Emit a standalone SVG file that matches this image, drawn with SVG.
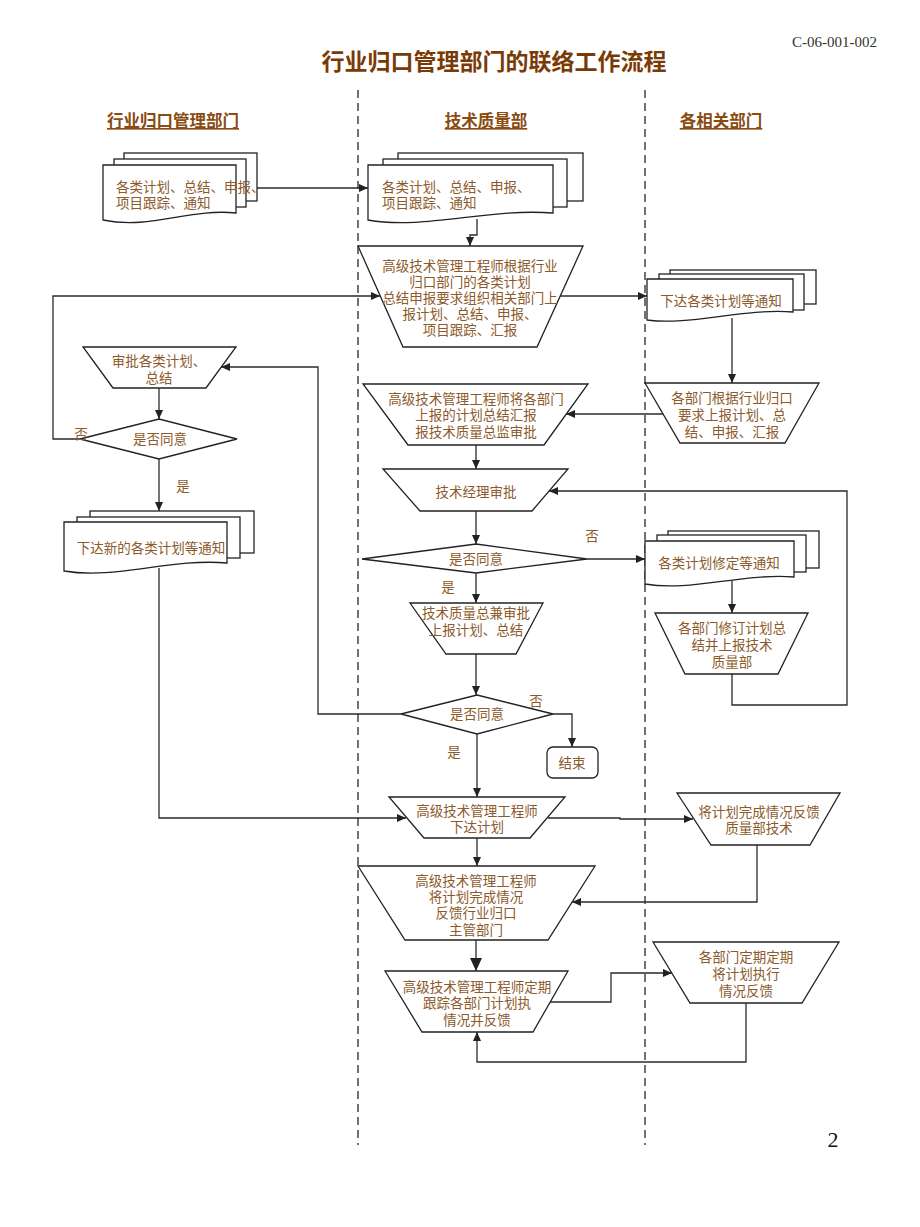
<svg xmlns="http://www.w3.org/2000/svg" width="920" height="1227" viewBox="0 0 920 1227">
<defs>
<marker id="ah" markerUnits="userSpaceOnUse" markerWidth="10" markerHeight="8" refX="9" refY="4" orient="auto">
<path d="M0,0 L9,4 L0,8 Z" fill="#222"/>
</marker>
<marker id="ahb" markerUnits="userSpaceOnUse" markerWidth="14" markerHeight="12" refX="13" refY="6" orient="auto">
<path d="M0,0 L13,6 L0,12 Z" fill="#222"/>
</marker>
<style>
.sh{fill:#fff;stroke:#222;stroke-width:1.3}
.t{font-family:"Liberation Serif","Noto Sans CJK SC",serif;font-size:13.5px;fill:#8c5a2b;text-anchor:middle}
.ts{font-family:"Liberation Serif","Noto Sans CJK SC",serif;font-size:13.5px;fill:#8c5a2b;text-anchor:start}
.lane{font-family:"Liberation Sans","Noto Sans CJK SC",sans-serif;font-size:16.5px;font-weight:bold;fill:#8a4b10;text-anchor:middle;text-decoration:underline}
.c{fill:none;stroke:#2a2a2a;stroke-width:1.3}
.dash{stroke:#444;stroke-width:1.5;stroke-dasharray:8,5}
</style>
</defs>
<rect width="920" height="1227" fill="#fff"/>

<text x="877" y="47" font-family="Liberation Serif,serif" font-size="15" fill="#333" text-anchor="end">C-06-001-002</text>
<text x="494" y="70" font-family="Liberation Sans,Noto Sans CJK SC,sans-serif" font-size="23" font-weight="bold" fill="#7a3a05" text-anchor="middle">行业归口管理部门的联络工作流程</text>
<text class="lane" x="173" y="127">行业归口管理部门</text>
<text class="lane" x="486" y="127">技术质量部</text>
<text class="lane" x="721" y="127">各相关部门</text>

<line class="dash" x1="358" y1="90" x2="358" y2="1145"/>
<line class="dash" x1="645" y1="90" x2="645" y2="1145"/>

<g id="doc1">
<rect class="sh" x="124" y="153" width="133" height="48"/>
<rect class="sh" x="114" y="159" width="132" height="48"/>
<path class="sh" d="M103,165 H236 V213 C190,208 150,230 103,220 Z"/>
<text class="ts" x="116" y="192">各类计划、总结、申报、</text>
<text class="ts" x="116" y="208">项目跟踪、通知</text>
</g>

<g id="doc2">
<rect class="sh" x="398" y="153" width="185" height="48"/>
<rect class="sh" x="383" y="159" width="184" height="48"/>
<path class="sh" d="M368,165 H553 V213 C488,208 424,230 368,220 Z"/>
<text class="ts" x="382" y="192">各类计划、总结、申报、</text>
<text class="ts" x="382" y="208">项目跟踪、通知</text>
</g>

<g id="n3">
<polygon class="sh" points="358,246 583,246 537,347 403,347"/>
<text class="t" x="470" y="271">高级技术管理工程师根据行业</text>
<text class="t" x="470" y="287">归口部门的各类计划</text>
<text class="t" x="470" y="303">总结申报要求组织相关部门上</text>
<text class="t" x="470" y="319">报计划、总结、申报、</text>
<text class="t" x="470" y="335">项目跟踪、汇报</text>
</g>

<g id="docR1">
<rect class="sh" x="670" y="270" width="146" height="34"/>
<rect class="sh" x="659" y="274" width="145" height="36"/>
<path class="sh" d="M647,279 H793 V312 C742,308 690,326 647,320 Z"/>
<text class="t" x="721" y="306">下达各类计划等通知</text>
</g>

<g id="nApprove">
<polygon class="sh" points="83,347 236,347 206,388 113,388"/>
<text class="t" x="159" y="366">审批各类计划、</text>
<text class="t" x="159" y="383">总结</text>
</g>

<g id="d1">
<polygon class="sh" points="80,439 159,419 237,439 159,459"/>
<text class="t" x="160" y="444">是否同意</text>
</g>

<g id="nR2">
<polygon class="sh" points="645,383 819,383 785,443 680,443"/>
<text class="t" x="732" y="403">各部门根据行业归口</text>
<text class="t" x="732" y="420">要求上报计划、总</text>
<text class="t" x="732" y="437">结、申报、汇报</text>
</g>

<g id="nM2">
<polygon class="sh" points="363,384 588,384 544,445 408,445"/>
<text class="t" x="476" y="404">高级技术管理工程师将各部门</text>
<text class="t" x="476" y="420">上报的计划总结汇报</text>
<text class="t" x="476" y="437">报技术质量总监审批</text>
</g>

<g id="nM3">
<polygon class="sh" points="383,469 568,469 532,511 420,511"/>
<text class="t" x="476" y="497">技术经理审批</text>
</g>

<g id="docL2">
<rect class="sh" x="90" y="511" width="164" height="42"/>
<rect class="sh" x="77" y="517" width="163" height="41"/>
<path class="sh" d="M64,522 H227 V563 C170,558 115,580 64,571 Z"/>
<text class="t" x="151" y="553">下达新的各类计划等通知</text>
</g>

<g id="d2">
<polygon class="sh" points="362,559 476,544 587,559 476,573"/>
<text class="t" x="476" y="564">是否同意</text>
</g>

<g id="docR3">
<rect class="sh" x="668" y="531" width="151" height="37"/>
<rect class="sh" x="657" y="535" width="149" height="37"/>
<path class="sh" d="M645,541 H794 V577 C742,573 690,592 645,584 Z"/>
<text class="t" x="719" y="568">各类计划修定等通知</text>
</g>

<g id="nR4">
<polygon class="sh" points="655,613 808,613 778,674 685,674"/>
<text class="t" x="732" y="633">各部门修订计划总</text>
<text class="t" x="732" y="650">结并上报技术</text>
<text class="t" x="732" y="667">质量部</text>
</g>

<g id="nM4">
<polygon class="sh" points="410,603 543,603 516,654 446,654"/>
<text class="t" x="476" y="618">技术质量总兼审批</text>
<text class="t" x="476" y="635">上报计划、总结</text>
</g>

<g id="d3">
<polygon class="sh" points="401,714 477,695 553,714 477,734"/>
<text class="t" x="477" y="719">是否同意</text>
</g>

<g id="end">
<rect class="sh" x="547" y="747" width="51" height="31" rx="6"/>
<text class="t" x="572" y="768">结束</text>
</g>

<g id="nM5">
<polygon class="sh" points="389,797 565,797 530,838 424,838"/>
<text class="t" x="477" y="816">高级技术管理工程师</text>
<text class="t" x="477" y="832">下达计划</text>
</g>

<g id="nR5">
<polygon class="sh" points="677,793 840,793 810,845 711,845"/>
<text class="t" x="759" y="817">将计划完成情况反馈</text>
<text class="t" x="759" y="833">质量部技术</text>
</g>

<g id="nM6">
<polygon class="sh" points="358,866 595,866 548,940 405,940"/>
<text class="t" x="476" y="886">高级技术管理工程师</text>
<text class="t" x="476" y="902">将计划完成情况</text>
<text class="t" x="476" y="918">反馈行业归口</text>
<text class="t" x="476" y="935">主管部门</text>
</g>

<g id="nM7">
<polygon class="sh" points="385,971 568,971 533,1032 422,1032"/>
<text class="t" x="477" y="992">高级技术管理工程师定期</text>
<text class="t" x="477" y="1008">跟踪各部门计划执</text>
<text class="t" x="477" y="1025">情况并反馈</text>
</g>

<g id="nR7">
<polygon class="sh" points="653,942 839,942 802,1003 690,1003"/>
<text class="t" x="746" y="962">各部门定期定期</text>
<text class="t" x="746" y="979">将计划执行</text>
<text class="t" x="746" y="996">情况反馈</text>
</g>

<g id="connectors">
<path class="c" d="M257,188 H368" marker-end="url(#ah)"/>
<path class="c" d="M477,219 V235 H470 V246" marker-end="url(#ah)"/>
<path class="c" d="M560,296 H647" marker-end="url(#ah)"/>
<path class="c" d="M80,439 H53 V296 H380" marker-end="url(#ah)"/>
<path class="c" d="M732,318 V383" marker-end="url(#ah)"/>
<path class="c" d="M663,414 H566" marker-end="url(#ah)"/>
<path class="c" d="M476,445 V469" marker-end="url(#ah)"/>
<path class="c" d="M732,674 V705 H847 V491 H549" marker-end="url(#ah)"/>
<path class="c" d="M476,511 V544" marker-end="url(#ah)"/>
<path class="c" d="M587,559 H645" marker-end="url(#ah)"/>
<path class="c" d="M732,581 V613" marker-end="url(#ah)"/>
<path class="c" d="M476,573 V603" marker-end="url(#ah)"/>
<path class="c" d="M476,654 V695" marker-end="url(#ah)"/>
<path class="c" d="M553,714 H572 V747" marker-end="url(#ah)"/>
<path class="c" d="M401,714 H318 V367 H221" marker-end="url(#ah)"/>
<path class="c" d="M159,388 V419" marker-end="url(#ah)"/>
<path class="c" d="M159,459 V511" marker-end="url(#ah)"/>
<path class="c" d="M159,568 V818 H406" marker-end="url(#ah)"/>
<path class="c" d="M477,734 V797" marker-end="url(#ah)"/>
<path class="c" d="M548,818 H620 V819 H693" marker-end="url(#ah)"/>
<path class="c" d="M757,845 V902 H572" marker-end="url(#ah)"/>
<path class="c" d="M477,838 V866" marker-end="url(#ah)"/>
<path class="c" d="M476,940 V971" marker-end="url(#ahb)"/>
<path class="c" d="M550,1002 H611 V973 H672" marker-end="url(#ah)"/>
<path class="c" d="M746,1003 V1062 H477 V1032" marker-end="url(#ah)"/>
</g>

<text x="81" y="439" class="t">否</text>
<text x="183" y="491" class="t">是</text>
<text x="592" y="541" class="t">否</text>
<text x="448" y="592" class="t">是</text>
<text x="536" y="706" class="t">否</text>
<text x="454" y="757" class="t">是</text>

<text x="833" y="1147" font-family="Liberation Serif,serif" font-size="22" fill="#111" text-anchor="middle">2</text>
</svg>
